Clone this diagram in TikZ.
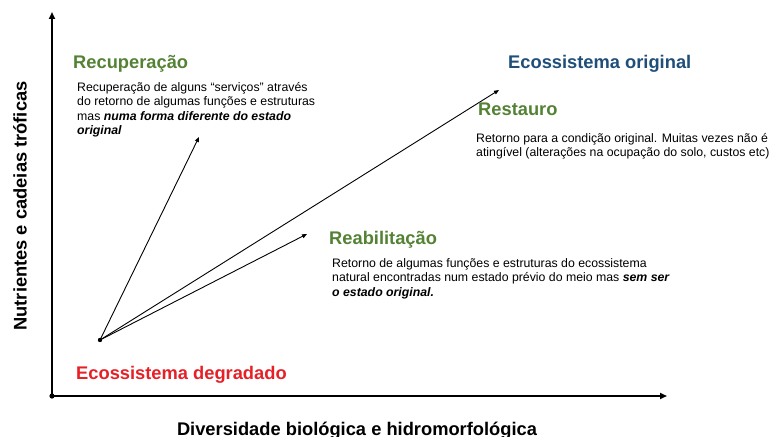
\documentclass[tikz,border=0pt]{standalone}
\usepackage{fontspec}
\setmainfont{Liberation Sans}
\usetikzlibrary{arrows.meta}
\definecolor{tgreen}{RGB}{84,130,53}
\definecolor{tblue}{RGB}{31,78,121}
\definecolor{tred}{RGB}{230,32,38}
\tikzset{
  axis/.style={line width=1.9pt,-{Triangle[length=7pt,width=6pt]}},
  conn/.style={line width=0.9pt,-{Triangle[length=5pt,width=4pt]}},
  title/.style={anchor=base west,inner sep=0pt,font=\fontsize{18.3}{21}\selectfont\bfseries},
  body/.style={anchor=base west,inner sep=0pt,align=left,font=\fontsize{12.3}{14.3}\selectfont},
  axlabel/.style={inner sep=0pt,anchor=base,font=\fontsize{18.3}{21}\selectfont\bfseries}
}
\begin{document}
\begin{tikzpicture}[x=1pt,y=-1pt]
\useasboundingbox (0,0) rectangle (770,436);
% axes
\coordinate (O) at (52,396);
\coordinate (Ytop) at (52,12);
\coordinate (Xend) at (667,396);
\draw[axis] (O) -- (Ytop);
\draw[axis] (O) -- (Xend);
\fill (O) circle (2.6);
\node[axlabel,rotate=90] (ylab) at (26.5,206) {Nutrientes e cadeias tróficas};
\node[axlabel] (xlab) at (357,435) {Diversidade biológica e hidromorfológica};
% degraded point and arrows
\coordinate (D) at (100,340);
\fill (D) circle (2.2);
\coordinate (Trec) at (199,137);
\coordinate (Tres) at (499,90);
\coordinate (Treb) at (307,234);
\draw[conn] (D) -- (Trec);
\draw[conn] (D) -- (Tres);
\draw[conn] (D) -- (Treb);
% titles
\node[title,text=tgreen] (rec) at (73,68) {Recuperação};
\node[title,text=tblue] (orig) at (508,68) {Ecossistema original};
\node[title,text=tgreen] (res) at (478,115) {Restauro};
\node[title,text=tgreen] (reb) at (329,244) {Reabilitação};
\node[title,text=tred] (deg) at (76,379) {Ecossistema degradado};
% bodies (anchor = baseline of last line)
\node[body] (recb) at (77,134.5) {Recuperação de alguns “serviços” através\\do retorno de algumas funções e estruturas\\mas \textbf{\textit{numa forma diferente do estado}}\\\textbf{\textit{original}}};
\node[body] (resb) at (476,156.3) {Retorno para a condição original. Muitas vezes não é\\atingível (alterações na ocupação do solo, custos etc)};
\node[body] (rebb) at (332,296) {Retorno de algumas funções e estruturas do ecossistema\\natural encontradas num estado prévio do meio mas \textbf{\textit{sem ser}}\\\textbf{\textit{o estado original.}}};
\end{tikzpicture}
\end{document}
